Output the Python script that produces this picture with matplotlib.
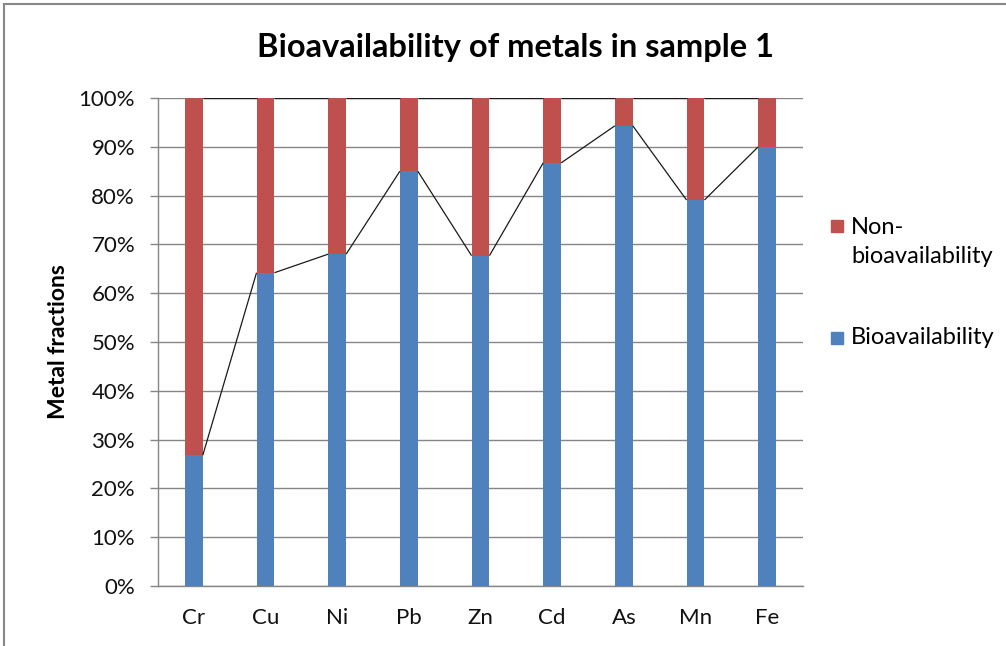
import matplotlib
matplotlib.use("Agg")
import matplotlib.pyplot as plt
from matplotlib.lines import Line2D
from matplotlib.patches import Rectangle
from matplotlib.ticker import FuncFormatter, MultipleLocator

plt.rcParams['font.family'] = ['Lato', 'DejaVu Sans']

metals = ['Cr', 'Cu', 'Ni', 'Pb', 'Zn', 'Cd', 'As', 'Mn', 'Fe']
bioavailable = [26.8, 64.2, 68.0, 85.0, 67.7, 86.7, 94.3, 79.1, 90.0]
non_bioavailable = [73.2, 35.8, 32.0, 15.0, 32.3, 13.3, 5.7, 20.9, 10.0]
series_labels = ['Bioavailability', 'Non-\nbioavailability']
colors = ['#4F81BD', '#C0504D']

title = 'Bioavailability of metals in sample 1'
ylabel = 'Metal fractions'

# 100% stacked shares
totals = [a + b for a, b in zip(bioavailable, non_bioavailable)]
bio_pct = [100 * a / t for a, t in zip(bioavailable, totals)]
non_pct = [100 * b / t for b, t in zip(non_bioavailable, totals)]

fig = plt.figure(figsize=(10.06, 6.46), dpi=100)
ax = fig.add_axes([158 / 1006, 60 / 646, 645 / 1006, 488 / 646])

x = list(range(len(metals)))
width = 0.25
ax.bar(x, bio_pct, width, color=colors[0], zorder=3)
ax.bar(x, non_pct, width, bottom=bio_pct, color=colors[1], zorder=3)

# series lines joining the tops of each stack segment
tops = [bio_pct, [b + n for b, n in zip(bio_pct, non_pct)]]
for level in tops:
    for i in range(len(metals) - 1):
        ax.plot([x[i] + width / 2, x[i + 1] - width / 2],
                [level[i], level[i + 1]], color='#1a1a1a', lw=0.9, zorder=4,
                solid_capstyle='butt')

ax.set_xlim(-0.5, len(metals) - 0.5)
ax.set_ylim(0, 100)
ax.yaxis.set_major_locator(MultipleLocator(10))
ax.yaxis.set_major_formatter(FuncFormatter(lambda v, p: f'{v:.0f}%'))
ax.set_xticks(x)
ax.set_xticklabels(metals)

ax.grid(axis='y', color='#868686', lw=1, zorder=0)
for side in ['top', 'right']:
    ax.spines[side].set_visible(False)
for side in ['left', 'bottom']:
    ax.spines[side].set_color('#868686')
    ax.spines[side].set_linewidth(1)

ax.tick_params(axis='y', length=6, width=1, color='#868686', pad=10.5,
               labelsize=16, labelcolor='#111111')
ax.tick_params(axis='x', length=0, pad=15.5, labelsize=16, labelcolor='#111111')

ax.set_ylabel(ylabel, fontsize=16.5, fontweight='bold', labelpad=7)
fig.text(515 / 1006, 1 - 47 / 646, title, ha='center', va='center',
         fontsize=23.5, fontweight='bold')

# legend
legend_rows = [(series_labels[1], colors[1], 226, 242),
               (series_labels[0], colors[0], 338, 337)]
for label, col, ysq, ytxt in legend_rows:
    fig.add_artist(Rectangle((831 / 1006, 1 - (ysq + 6) / 646), 12 / 1006, 12 / 646,
                             transform=fig.transFigure, color=col))
    fig.text(851 / 1006, 1 - ytxt / 646, label, ha='left', va='center',
             fontsize=17, linespacing=1.5)

# chart frame
fig.add_artist(Line2D([4 / 1006, 4 / 1006], [0, 1 - 4 / 646],
                      transform=fig.transFigure, color='#888888', lw=1.5))
fig.add_artist(Line2D([4 / 1006, 1], [1 - 4 / 646, 1 - 4 / 646],
                      transform=fig.transFigure, color='#888888', lw=1.5))

fig.savefig('out.png', dpi=100)
